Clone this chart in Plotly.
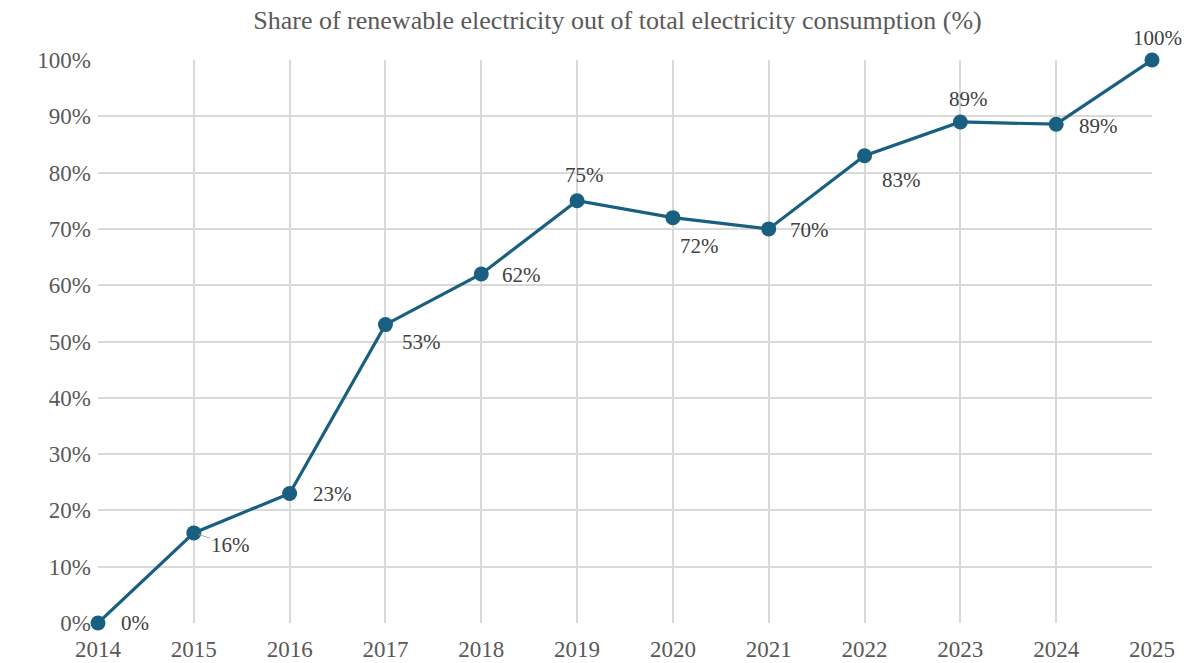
import plotly.graph_objects as go

years = [2014, 2015, 2016, 2017, 2018, 2019, 2020, 2021, 2022, 2023, 2024, 2025]
share = [0.0, 0.16, 0.23, 0.53, 0.62, 0.75, 0.72, 0.70, 0.83, 0.89, 0.886, 1.0]
y_ticks = [i / 10 for i in range(11)]

# label offsets (px) relative to each point
label_dx = [37, 37, 43, 36, 40, 7, 27, 41, 37, 8, 42, 5]
label_dy = [0, -12, 0, -17, -1, 26, -28, -1, -24, 23, -2, 22]

LINE = "#185f80"
SERIF = "Liberation Serif"

fig = go.Figure()
fig.add_trace(go.Scatter(
    x=years, y=share, mode="lines+markers",
    line=dict(color=LINE, width=3.2),
    marker=dict(color=LINE, size=15),
    cliponaxis=False, hoverinfo="skip", showlegend=False,
))

for i, (x, y) in enumerate(zip(years, share)):
    txt = f"{round(y * 100):d}%"
    if i == 1:
        fig.add_annotation(
            x=x, y=y, text=txt, showarrow=True, arrowhead=0, arrowwidth=1,
            arrowcolor="#a6a6a6", ax=label_dx[i], ay=-label_dy[i], standoff=5,
            font=dict(family=SERIF, size=21, color="#404040"),
        )
    else:
        fig.add_annotation(
            x=x, y=y, text=txt, showarrow=False,
            xshift=label_dx[i], yshift=label_dy[i],
            font=dict(family=SERIF, size=21, color="#404040"),
        )

fig.update_layout(
    width=1199, height=663,
    margin=dict(l=98, r=47, t=60, b=40),
    paper_bgcolor="white", plot_bgcolor="white",
    title=dict(
        text="Share of renewable electricity out of total electricity consumption (%)",
        x=617.5 / 1199, xanchor="center", y=1 - 20 / 663, yanchor="middle",
        font=dict(family=SERIF, size=26, color="#595959"),
    ),
    xaxis=dict(
        range=[2014, 2025], tickmode="array", tickvals=years,
        showgrid=True, gridcolor="#d9d9d9", gridwidth=1.5,
        zeroline=False, showline=False, ticks="", automargin=False,
        ticklabelstandoff=10,
        tickfont=dict(family=SERIF, size=23, color="#595959"),
    ),
    yaxis=dict(
        range=[0, 1], tickmode="array", tickvals=y_ticks, tickformat=".0%",
        showgrid=True, gridcolor="#d9d9d9", gridwidth=1.5,
        zeroline=False, showline=False, ticks="", automargin=False,
        ticklabelstandoff=6,
        tickfont=dict(family=SERIF, size=23, color="#595959"),
    ),
)

fig.write_html("out.html")
